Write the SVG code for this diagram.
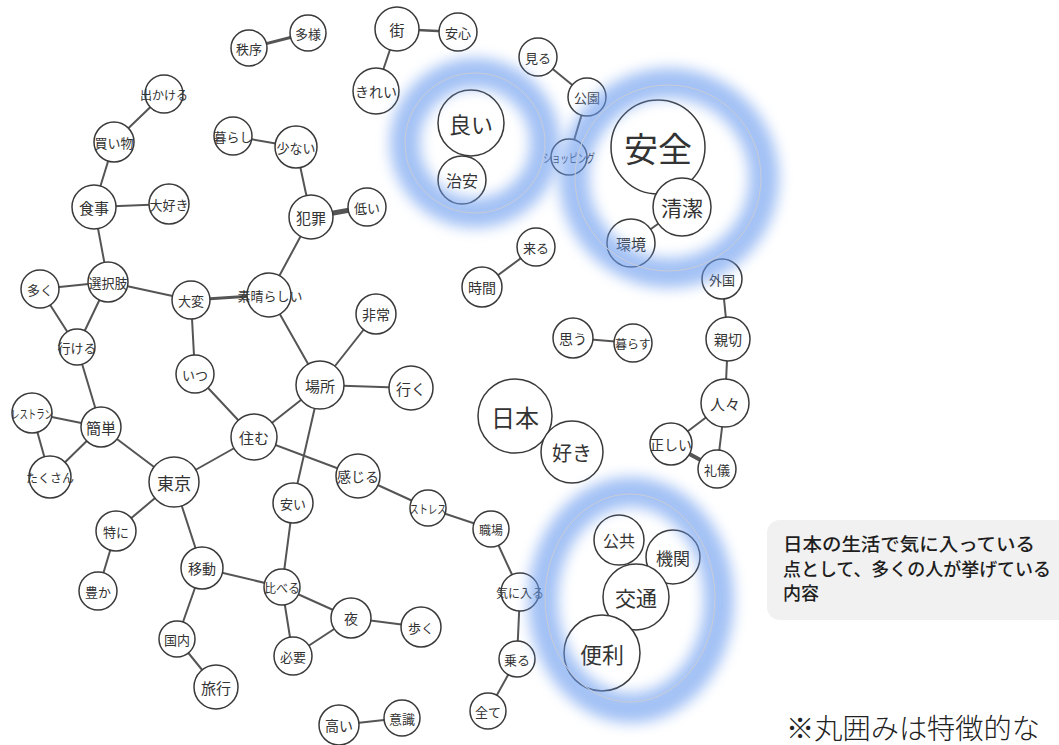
<svg xmlns="http://www.w3.org/2000/svg" width="1059" height="745" viewBox="0 0 1059 745">
<defs>
<style>
.e{stroke:#555;stroke-width:2;fill:none;stroke-linecap:round}
.n circle{fill:#fff;stroke:#3a3a3a;stroke-width:1.5}
.n text{font-family:"Noto Sans CJK JP","Noto Sans",sans-serif;fill:#333;text-anchor:middle;dominant-baseline:central}
.glow{fill:none;stroke:#6a9bef;stroke-width:30;opacity:0.62;filter:url(#blur)}
.thin{fill:none;stroke:#c9ccd6;stroke-width:1}
</style>
<filter id="blur" x="-30%" y="-30%" width="160%" height="160%"><feGaussianBlur stdDeviation="7"/></filter>
</defs>
<rect width="1059" height="745" fill="#fff"/>
<g id="connectors">
<line class="e" x1="249" y1="48" x2="308" y2="33" style="stroke-width:3"/>
<line class="e" x1="164" y1="94" x2="114" y2="142"/>
<line class="e" x1="114" y1="142" x2="94" y2="207"/>
<line class="e" x1="94" y1="207" x2="169" y2="204"/>
<line class="e" x1="94" y1="207" x2="108" y2="282"/>
<line class="e" x1="233" y1="136" x2="296" y2="147"/>
<line class="e" x1="296" y1="147" x2="311" y2="217"/>
<line class="e" x1="311" y1="217" x2="367" y2="207" style="stroke-width:5"/>
<line class="e" x1="311" y1="217" x2="269" y2="295"/>
<line class="e" x1="397" y1="29" x2="458" y2="32" style="stroke-width:2.5"/>
<line class="e" x1="397" y1="29" x2="376" y2="91"/>
<line class="e" x1="471" y1="123" x2="462" y2="180"/>
<line class="e" x1="538" y1="57" x2="587" y2="97"/>
<line class="e" x1="587" y1="97" x2="569" y2="157"/>
<line class="e" x1="658" y1="147" x2="682" y2="207"/>
<line class="e" x1="682" y1="207" x2="631" y2="243"/>
<line class="e" x1="536" y1="247" x2="482" y2="287"/>
<line class="e" x1="40" y1="289" x2="108" y2="282"/>
<line class="e" x1="40" y1="289" x2="77" y2="347"/>
<line class="e" x1="108" y1="282" x2="77" y2="347"/>
<line class="e" x1="108" y1="282" x2="191" y2="300"/>
<line class="e" x1="191" y1="300" x2="269" y2="295" style="stroke-width:3"/>
<line class="e" x1="191" y1="300" x2="195" y2="374"/>
<line class="e" x1="195" y1="374" x2="254" y2="437"/>
<line class="e" x1="269" y1="295" x2="320" y2="385"/>
<line class="e" x1="320" y1="385" x2="376" y2="314"/>
<line class="e" x1="320" y1="385" x2="411" y2="388"/>
<line class="e" x1="320" y1="385" x2="254" y2="437"/>
<line class="e" x1="320" y1="385" x2="293" y2="503"/>
<line class="e" x1="77" y1="347" x2="101" y2="427"/>
<line class="e" x1="32" y1="413" x2="101" y2="427"/>
<line class="e" x1="32" y1="413" x2="50" y2="477"/>
<line class="e" x1="50" y1="477" x2="101" y2="427"/>
<line class="e" x1="101" y1="427" x2="174" y2="482"/>
<line class="e" x1="174" y1="482" x2="254" y2="437"/>
<line class="e" x1="254" y1="437" x2="358" y2="476"/>
<line class="e" x1="358" y1="476" x2="428" y2="508"/>
<line class="e" x1="428" y1="508" x2="491" y2="529"/>
<line class="e" x1="491" y1="529" x2="520" y2="592"/>
<line class="e" x1="520" y1="592" x2="517" y2="659"/>
<line class="e" x1="517" y1="659" x2="488" y2="711"/>
<line class="e" x1="174" y1="482" x2="116" y2="531"/>
<line class="e" x1="116" y1="531" x2="98" y2="591"/>
<line class="e" x1="174" y1="482" x2="202" y2="568"/>
<line class="e" x1="202" y1="568" x2="282" y2="587"/>
<line class="e" x1="202" y1="568" x2="177" y2="639"/>
<line class="e" x1="177" y1="639" x2="216" y2="687"/>
<line class="e" x1="293" y1="503" x2="282" y2="587"/>
<line class="e" x1="282" y1="587" x2="351" y2="618"/>
<line class="e" x1="282" y1="587" x2="293" y2="656"/>
<line class="e" x1="293" y1="656" x2="351" y2="618"/>
<line class="e" x1="351" y1="618" x2="421" y2="627"/>
<line class="e" x1="339" y1="725" x2="402" y2="718"/>
<line class="e" x1="573" y1="338" x2="633" y2="343"/>
<line class="e" x1="722" y1="279" x2="728" y2="339"/>
<line class="e" x1="728" y1="339" x2="725" y2="403"/>
<line class="e" x1="725" y1="403" x2="671" y2="444"/>
<line class="e" x1="725" y1="403" x2="717" y2="469"/>
<line class="e" x1="671" y1="444" x2="717" y2="469" style="stroke-width:4"/>
<line class="e" x1="515" y1="416" x2="572" y2="452"/>
</g>
<g id="n_chitsujo" class="n"><circle cx="249" cy="48" r="18"/><text x="249" y="48" font-size="13">秩序</text></g>
<g id="n_tayou" class="n"><circle cx="308" cy="33" r="18"/><text x="308" y="33" font-size="13">多様</text></g>
<g id="n_dekakeru" class="n"><circle cx="164" cy="94" r="19"/><text x="164" y="94" font-size="12">出かける</text></g>
<g id="n_kaimono" class="n"><circle cx="114" cy="142" r="20"/><text x="114" y="142" font-size="13">買い物</text></g>
<g id="n_shokuji" class="n"><circle cx="94" cy="207" r="22"/><text x="94" y="207" font-size="15">食事</text></g>
<g id="n_daisuki" class="n"><circle cx="169" cy="204" r="20"/><text x="169" y="204" font-size="13">大好き</text></g>
<g id="n_kurashi" class="n"><circle cx="233" cy="136" r="19"/><text x="233" y="136" font-size="13">暮らし</text></g>
<g id="n_sukunai" class="n"><circle cx="296" cy="147" r="21"/><text x="296" y="147" font-size="13">少ない</text></g>
<g id="n_hanzai" class="n"><circle cx="311" cy="217" r="22"/><text x="311" y="217" font-size="15">犯罪</text></g>
<g id="n_hikui" class="n"><circle cx="367" cy="207" r="19"/><text x="367" y="207" font-size="13">低い</text></g>
<g id="n_machi" class="n"><circle cx="397" cy="29" r="22"/><text x="397" y="29" font-size="15">街</text></g>
<g id="n_anshin" class="n"><circle cx="458" cy="32" r="19"/><text x="458" y="32" font-size="13">安心</text></g>
<g id="n_kirei" class="n"><circle cx="376" cy="91" r="23"/><text x="376" y="91" font-size="14">きれい</text></g>
<g id="n_yoi" class="n"><circle cx="471" cy="123" r="33"/><text x="471" y="123" font-size="22">良い</text></g>
<g id="n_chian" class="n"><circle cx="462" cy="180" r="24"/><text x="462" y="180" font-size="16">治安</text></g>
<g id="n_miru" class="n"><circle cx="538" cy="57" r="19"/><text x="538" y="57" font-size="13">見る</text></g>
<g id="n_kouen" class="n"><circle cx="587" cy="97" r="19"/><text x="587" y="97" font-size="13">公園</text></g>
<g id="n_shopping" class="n"><circle cx="569" cy="157" r="18"/><text x="569" y="157" font-size="12" textLength="52" lengthAdjust="spacingAndGlyphs">ショッピング</text></g>
<g id="n_anzen" class="n"><circle cx="658" cy="147" r="47"/><text x="658" y="147" font-size="34">安全</text></g>
<g id="n_seiketsu" class="n"><circle cx="682" cy="207" r="29"/><text x="682" y="207" font-size="21">清潔</text></g>
<g id="n_kankyou" class="n"><circle cx="631" cy="243" r="24"/><text x="631" y="243" font-size="15">環境</text></g>
<g id="n_kuru" class="n"><circle cx="536" cy="247" r="19"/><text x="536" y="247" font-size="13">来る</text></g>
<g id="n_jikan" class="n"><circle cx="482" cy="287" r="20"/><text x="482" y="287" font-size="14">時間</text></g>
<g id="n_gaikoku" class="n"><circle cx="722" cy="279" r="20"/><text x="722" y="279" font-size="13">外国</text></g>
<g id="n_ooku" class="n"><circle cx="40" cy="289" r="19"/><text x="40" y="289" font-size="13">多く</text></g>
<g id="n_sentakushi" class="n"><circle cx="108" cy="282" r="20"/><text x="108" y="282" font-size="13">選択肢</text></g>
<g id="n_ikeru" class="n"><circle cx="77" cy="347" r="18"/><text x="77" y="347" font-size="13">行ける</text></g>
<g id="n_taihen" class="n"><circle cx="191" cy="300" r="19"/><text x="191" y="300" font-size="13">大変</text></g>
<g id="n_subarashii" class="n"><circle cx="269" cy="295" r="22"/><text x="270" y="295" font-size="13">素晴らしい</text></g>
<g id="n_itsu" class="n"><circle cx="195" cy="374" r="19"/><text x="195" y="374" font-size="13">いつ</text></g>
<g id="n_basho" class="n"><circle cx="320" cy="385" r="24"/><text x="320" y="385" font-size="15">場所</text></g>
<g id="n_hijou" class="n"><circle cx="376" cy="314" r="20"/><text x="376" y="314" font-size="14">非常</text></g>
<g id="n_iku" class="n"><circle cx="411" cy="388" r="22"/><text x="411" y="388" font-size="15">行く</text></g>
<g id="n_restaurant" class="n"><circle cx="32" cy="413" r="20"/><text x="32" y="413" font-size="12" textLength="42" lengthAdjust="spacingAndGlyphs">レストラン</text></g>
<g id="n_kantan" class="n"><circle cx="101" cy="427" r="20"/><text x="101" y="427" font-size="15">簡単</text></g>
<g id="n_sumu" class="n"><circle cx="254" cy="437" r="23"/><text x="254" y="437" font-size="15">住む</text></g>
<g id="n_takusan" class="n"><circle cx="50" cy="477" r="21"/><text x="50" y="477" font-size="12">たくさん</text></g>
<g id="n_tokyo" class="n"><circle cx="174" cy="482" r="25"/><text x="174" y="482" font-size="17">東京</text></g>
<g id="n_kanjiru" class="n"><circle cx="358" cy="476" r="22"/><text x="358" y="476" font-size="14">感じる</text></g>
<g id="n_nihon" class="n"><circle cx="515" cy="416" r="37"/><text x="515" y="416" font-size="24">日本</text></g>
<g id="n_suki" class="n"><circle cx="572" cy="452" r="31"/><text x="572" y="452" font-size="20">好き</text></g>
<g id="n_omou" class="n"><circle cx="573" cy="338" r="20"/><text x="573" y="338" font-size="14">思う</text></g>
<g id="n_kurasu" class="n"><circle cx="633" cy="343" r="19"/><text x="633" y="343" font-size="12">暮らす</text></g>
<g id="n_shinsetsu" class="n"><circle cx="728" cy="339" r="22"/><text x="728" y="339" font-size="14">親切</text></g>
<g id="n_hitobito" class="n"><circle cx="725" cy="403" r="24"/><text x="725" y="403" font-size="15">人々</text></g>
<g id="n_tadashii" class="n"><circle cx="671" cy="444" r="21"/><text x="671" y="444" font-size="14">正しい</text></g>
<g id="n_reigi" class="n"><circle cx="717" cy="469" r="19"/><text x="717" y="469" font-size="13">礼儀</text></g>
<g id="n_tokuni" class="n"><circle cx="116" cy="531" r="20"/><text x="116" y="531" font-size="13">特に</text></g>
<g id="n_yutaka" class="n"><circle cx="98" cy="591" r="19"/><text x="98" y="591" font-size="13">豊か</text></g>
<g id="n_idou" class="n"><circle cx="202" cy="568" r="21"/><text x="202" y="568" font-size="14">移動</text></g>
<g id="n_yasui" class="n"><circle cx="293" cy="503" r="20"/><text x="293" y="503" font-size="13">安い</text></g>
<g id="n_kuraberu" class="n"><circle cx="282" cy="587" r="18"/><text x="282" y="587" font-size="12">比べる</text></g>
<g id="n_yoru" class="n"><circle cx="351" cy="618" r="20"/><text x="351" y="618" font-size="14">夜</text></g>
<g id="n_hitsuyou" class="n"><circle cx="293" cy="656" r="19"/><text x="293" y="656" font-size="13">必要</text></g>
<g id="n_kokunai" class="n"><circle cx="177" cy="639" r="18"/><text x="177" y="639" font-size="13">国内</text></g>
<g id="n_ryokou" class="n"><circle cx="216" cy="687" r="22"/><text x="216" y="687" font-size="15">旅行</text></g>
<g id="n_takai" class="n"><circle cx="339" cy="725" r="20"/><text x="339" y="725" font-size="14">高い</text></g>
<g id="n_ishiki" class="n"><circle cx="402" cy="718" r="18"/><text x="402" y="718" font-size="13">意識</text></g>
<g id="n_stress" class="n"><circle cx="428" cy="508" r="18"/><text x="428" y="508" font-size="12" textLength="37" lengthAdjust="spacingAndGlyphs">ストレス</text></g>
<g id="n_shokuba" class="n"><circle cx="491" cy="529" r="18"/><text x="491" y="529" font-size="12">職場</text></g>
<g id="n_kiniiru" class="n"><circle cx="520" cy="592" r="19"/><text x="520" y="592" font-size="12">気に入る</text></g>
<g id="n_aruku" class="n"><circle cx="421" cy="627" r="20"/><text x="421" y="627" font-size="13">歩く</text></g>
<g id="n_noru" class="n"><circle cx="517" cy="659" r="18"/><text x="517" y="659" font-size="13">乗る</text></g>
<g id="n_subete" class="n"><circle cx="488" cy="711" r="18"/><text x="488" y="711" font-size="13">全て</text></g>
<g id="n_koukyou" class="n"><circle cx="619" cy="540" r="25"/><text x="619" y="540" font-size="16">公共</text></g>
<g id="n_kikan" class="n"><circle cx="673" cy="557" r="27"/><text x="673" y="557" font-size="17">機関</text></g>
<g id="n_koutsuu" class="n"><circle cx="636" cy="597" r="33"/><text x="636" y="597" font-size="21">交通</text></g>
<g id="n_benri" class="n"><circle cx="602" cy="653" r="38"/><text x="602" y="653" font-size="22">便利</text></g>
<g id="highlights">
<circle class="glow" cx="475" cy="143" r="70"/>
<circle class="thin" cx="475" cy="143" r="70"/>
<circle class="glow" cx="669" cy="178" r="95"/>
<circle class="thin" cx="668" cy="178" r="93"/>
<ellipse class="glow" cx="631" cy="600" rx="88" ry="108"/>
<ellipse class="thin" cx="630" cy="598" rx="85" ry="104"/>
</g>
<g id="callout">
<rect x="767" y="520" width="310" height="100" rx="13" fill="#f1f1f1"/>
<g font-family="Noto Sans CJK JP,sans-serif" font-size="18" font-weight="500" fill="#1e1e1e">
<text x="783" y="551" textLength="252" lengthAdjust="spacingAndGlyphs">日本の生活で気に入っている</text>
<text x="783" y="576" textLength="268" lengthAdjust="spacingAndGlyphs">点として、多くの人が挙げている</text>
<text x="783" y="600">内容</text>
</g>
</g>
<text id="note" x="786" y="739" font-family="Noto Sans CJK JP,sans-serif" font-size="28" font-weight="300" fill="#222" textLength="254" lengthAdjust="spacingAndGlyphs">※丸囲みは特徴的な</text>
</svg>
